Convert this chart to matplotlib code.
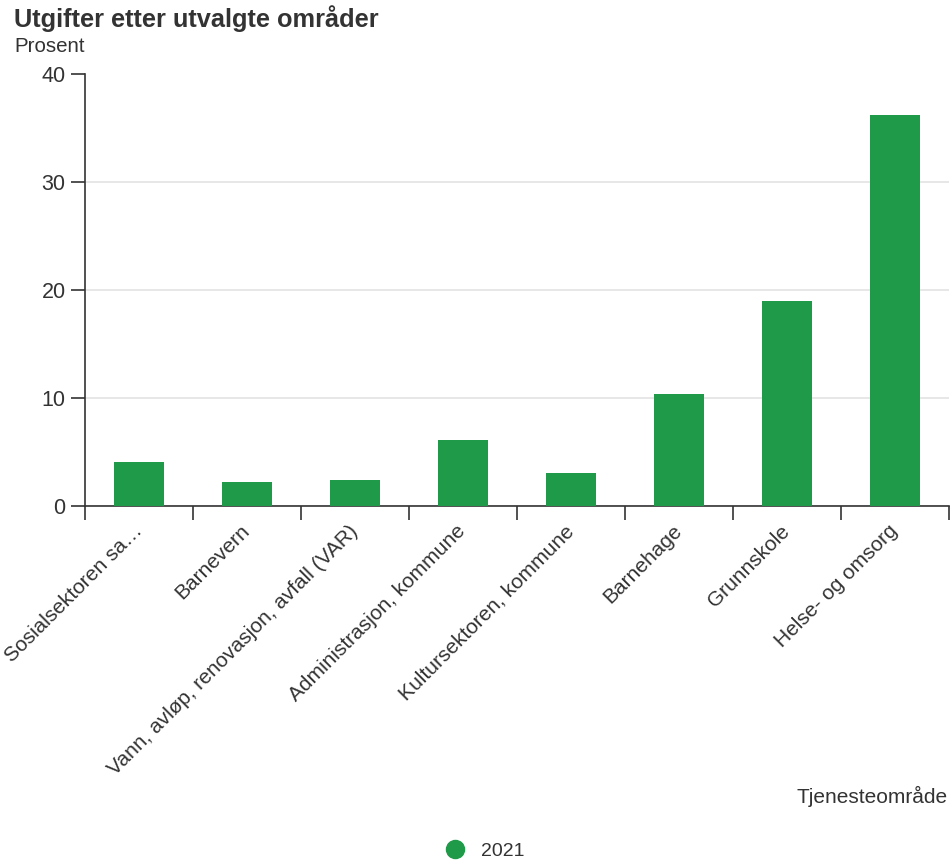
import numpy as np
import matplotlib.pyplot as plt
from matplotlib.lines import Line2D

plt.rcParams['font.family'] = ['Liberation Sans', 'DejaVu Sans']

categories = ['Sosialsektoren sa…', 'Barnevern', 'Vann, avløp, renovasjon, avfall (VAR)',
              'Administrasjon, kommune', 'Kultursektoren, kommune', 'Barnehage',
              'Grunnskole', 'Helse- og omsorg']
values_2021 = [4.1, 2.2, 2.4, 6.1, 3.1, 10.4, 19.0, 36.2]
yticks = [0, 10, 20, 30, 40]

green = '#1e9a48'
text_col = '#333333'
axis_col = '#333333'

W, H = 951, 861
fig = plt.figure(figsize=(W / 100, H / 100), dpi=100)
ax = fig.add_axes([85 / W, 1 - 506 / H, (949 - 85) / W, (506 - 74.5) / H])

x = np.arange(len(categories))
ax.bar(x, values_2021, width=0.47, color=green, zorder=3)

ax.set_xlim(-0.5, len(categories) - 0.5)
ax.set_ylim(0, 40)
ax.set_yticks(yticks)
ax.set_yticklabels([str(v) for v in yticks], fontsize=15.5, color=text_col)
ax.yaxis.grid(True, color='#e3e3e3', linewidth=1.2, zorder=0)
ax.tick_params(axis='y', length=10, width=1.2, color=axis_col, pad=4)

# ticks on the band edges, labels on band centres
ax.set_xticks(np.arange(len(categories) + 1) - 0.5)
ax.set_xticklabels([])
ax.tick_params(axis='x', length=10, width=1.2, color=axis_col)
ax.set_xticks(x, minor=True)
ax.set_xticklabels(categories, minor=True, rotation=45, ha='right', va='center',
                   rotation_mode='anchor', fontsize=15, color=text_col)
ax.tick_params(axis='x', which='minor', length=0, pad=16)

for s in ['top', 'right']:
    ax.spines[s].set_visible(False)
ax.spines['left'].set_color(axis_col)
ax.spines['bottom'].set_color(axis_col)
ax.spines['left'].set_linewidth(1.2)
ax.spines['bottom'].set_linewidth(1.2)

fig.text(14 / W, 1 - 27 / H, 'Utgifter etter utvalgte områder', fontsize=18.3,
         fontweight='bold', color=text_col, ha='left', va='baseline')
fig.text(14 / W, 1 - 52 / H, 'Prosent', fontsize=14.8, color=text_col,
         ha='left', va='baseline')
fig.text(948 / W, 1 - 803 / H, 'Tjenesteområde', fontsize=15, color=text_col,
         ha='right', va='baseline')

handle = Line2D([], [], marker='o', linestyle='none', markersize=13,
                markerfacecolor=green, markeredgecolor=green)
fig.legend([handle], ['2021'], loc='center', bbox_to_anchor=(480 / W, 1 - 851 / H),
           frameon=False, fontsize=14, handletextpad=0.3, labelcolor=text_col)

fig.savefig('out.png', dpi=100)
